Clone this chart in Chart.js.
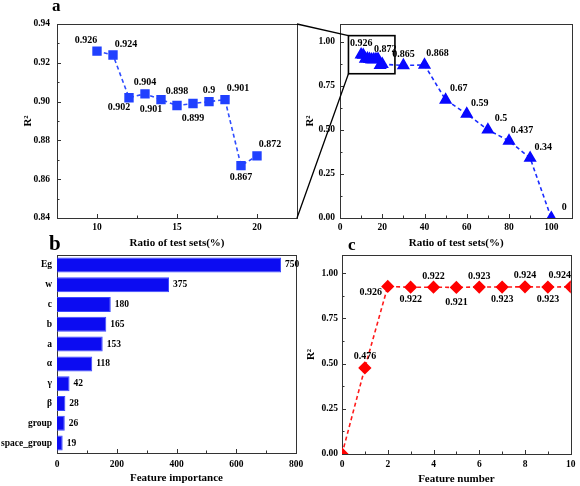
<!DOCTYPE html>
<html>
<head>
<meta charset="utf-8">
<script src="https://cdn.jsdelivr.net/npm/chart.js@4.4.1/dist/chart.umd.min.js"></script>
<style>
  body { margin: 0; background: #fff; width: 580px; height: 486px; position: relative; overflow: hidden; }
  canvas { position: absolute; left: 0; top: 0; }
</style>
</head>
<body>
<canvas id="zoomChart" width="580" height="486"></canvas>
<canvas id="fullChart" width="580" height="486"></canvas>
<canvas id="barChart" width="580" height="486"></canvas>
<canvas id="featChart" width="580" height="486"></canvas>
<script>
// panel a (left): zoomed part, ratio of test sets 10-20 %
const zoomRatio = [10, 11, 12, 13, 14, 15, 16, 17, 18, 19, 20];
const zoomR2 = [0.926, 0.924, 0.902, 0.904, 0.901, 0.898, 0.899, 0.9, 0.901, 0.867, 0.872];
// panel a (right): full range
const fullRatio = [10, 11, 12, 13, 14, 15, 16, 17, 18, 19, 20, 30, 40, 50, 60, 70, 80, 90, 100];
const fullR2 = [0.926, 0.924, 0.902, 0.904, 0.901, 0.898, 0.899, 0.9, 0.901, 0.867, 0.872, 0.865, 0.868, 0.67, 0.59, 0.5, 0.437, 0.34, 0];
// panel b
const features = ['Eg', 'w', 'c', 'b', 'a', 'α', 'γ', 'β', 'group', 'space_group'];
const importance = [750, 375, 180, 165, 153, 118, 42, 28, 26, 19];
// panel c
const featureNumber = [0, 1, 2, 3, 4, 5, 6, 7, 8, 9, 10];
const featureR2 = [0, 0.476, 0.926, 0.922, 0.922, 0.921, 0.923, 0.923, 0.924, 0.923, 0.924];

// tick labels
const zoomXTicks = [10, 15, 20];
const zoomYTicks = [0.84, 0.86, 0.88, 0.90, 0.92, 0.94];
const fullXTicks = [0, 20, 40, 60, 80, 100];
const r2Ticks = [0, 0.25, 0.5, 0.75, 1];
const importanceTicks = [0, 200, 400, 600, 800];
const featureTicks = [0, 2, 4, 6, 8, 10];

// where each value label sits relative to its point
const zoomLabelAt = ['ul', 'ur', 'dl', 'u', 'dl', 'uu', 'dd', 'u', 'ur', 'd', 'ur'];
const fullLabelAt = ['u', null, null, null, null, null, null, null, null, null, 'un', 'u', 'ur', 'ur', 'ur', 'ur', 'ur', 'ur', 'ur'];
const featLabelAt = [null, 'u', 'l', 'd', 'u', 'dd', 'u', 'd', 'u', 'd', 'ul'];
const OFF = { u: [0, -11], uu: [0, -14], un: [3, -15], d: [0, 12], dd: [0, 15], ul: [-11, -11], ur: [13, -11], dl: [-10, 10], l: [-17, 6] };

const FONT = '"Liberation Serif", "Times New Roman", serif';
const H = 40;

function font(size) { return { family: FONT, size: size, weight: 'bold' }; }

// y axis box is w wide, x axis box is H high; padding puts the plot area on box
function pad(box, w) {
  return { left: box.l - w, top: box.t, right: 580 - box.r, bottom: 486 - box.b - H };
}

function scale(o) {
  const s = {
    type: o.type || 'linear',
    grid: { display: false, drawTicks: false },
    border: { display: false },
    ticks: { color: '#000', font: font(9.5), padding: o.tickPad, autoSkip: false, maxRotation: 0 },
    afterFit: function (sc) { if (o.y) sc.width = o.w; else sc.height = H; },
    title: { display: false }
  };
  if (s.type === 'linear') {
    s.min = o.min;
    s.max = o.max;
    s.afterBuildTicks = function (sc) { sc.ticks = o.ticks.map(v => ({ value: v })); };
    if (o.fmt) s.ticks.callback = o.fmt;
  }
  if (o.title) {
    s.title = {
      display: true, text: o.title, color: '#000', font: font(11),
      padding: o.y ? { top: o.titlePad, bottom: 0 } : { top: 0, bottom: o.titlePad }
    };
  }
  return s;
}

// box around the plot area plus inward ticks
const framePlugin = {
  id: 'frame',
  beforeDatasetsDraw(chart) {
    const ctx = chart.ctx, a = chart.chartArea;
    ctx.save();
    ctx.strokeStyle = '#333';
    ctx.lineWidth = 1;
    ctx.strokeRect(Math.round(a.left) + 0.5, Math.round(a.top) + 0.5, Math.round(a.right - a.left), Math.round(a.bottom - a.top));
    Object.values(chart.scales).forEach(sc => {
      const horiz = sc.isHorizontal();
      const marks = [];
      if (sc.type === 'category') {
        sc.ticks.forEach((t, i) => marks.push([sc.getPixelForTick(i), 4]));
      } else {
        const vals = sc.ticks.map(t => t.value);
        vals.forEach((v, i) => {
          marks.push([sc.getPixelForValue(v), 4]);
          if (i > 0) marks.push([sc.getPixelForValue((v + vals[i - 1]) / 2), 2.5]);
        });
      }
      ctx.beginPath();
      marks.forEach(m => {
        const p = Math.round(m[0]) + 0.5;
        if (horiz) { ctx.moveTo(p, a.bottom); ctx.lineTo(p, a.bottom - m[1]); }
        else { ctx.moveTo(a.left, p); ctx.lineTo(a.left + m[1], p); }
      });
      ctx.stroke();
    });
    ctx.restore();
  }
};

const labelPlugin = {
  id: 'valueLabels',
  afterDatasetsDraw(chart, args, opts) {
    if (!opts || !opts.mode) return;
    const ctx = chart.ctx;
    const meta = chart.getDatasetMeta(0);
    const data = chart.data.datasets[0].data;
    ctx.save();
    ctx.fillStyle = '#000';
    ctx.font = 'bold ' + opts.size + 'px ' + FONT;
    ctx.textBaseline = 'middle';
    meta.data.forEach((el, i) => {
      const d = data[i];
      const v = typeof d === 'object' ? d.y : d;
      if (opts.mode === 'bar') {
        ctx.textAlign = 'left';
        ctx.fillText(String(v), el.x + 4, el.y);
        return;
      }
      const code = opts.at[i];
      if (!code) return;
      ctx.textAlign = 'center';
      ctx.fillText(String(v), el.x + OFF[code][0], el.y + OFF[code][1]);
    });
    ctx.restore();
  }
};

const fmt2 = v => Number(v).toFixed(2);

// ---- panel a, left
const zoomBox = { l: 57, t: 24, r: 297, b: 218 };
const zoomChart = new Chart(document.getElementById('zoomChart'), {
  type: 'line',
  data: {
    datasets: [{
      data: zoomRatio.map((x, i) => ({ x: x, y: zoomR2[i] })),
      borderColor: '#2f4dff', borderWidth: 1.6, borderDash: [4, 3],
      pointStyle: 'rect', pointRadius: 5.5, pointBackgroundColor: '#2040ff', pointBorderColor: '#2040ff',
      tension: 0
    }]
  },
  options: {
    responsive: false, animation: false,
    layout: { padding: pad(zoomBox, 50) },
    plugins: { legend: { display: false }, tooltip: { enabled: false }, valueLabels: { at: zoomLabelAt, size: 10, mode: 'point' } },
    scales: {
      x: scale({ min: 7.5, max: 22.5, ticks: zoomXTicks, tickPad: 4, title: 'Ratio of test sets(%)', titlePad: 8.4 }),
      y: scale({ y: true, w: 50, min: 0.84, max: 0.94, ticks: zoomYTicks, tickPad: 7, fmt: fmt2, title: 'R²', titlePad: 14.4 })
    }
  },
  plugins: [framePlugin, labelPlugin]
});

// ---- panel a, right (with the zoom box and connectors)
const insetPlugin = {
  id: 'inset',
  afterDraw(chart) {
    const ctx = chart.ctx, x = chart.scales.x, y = chart.scales.y;
    const l = x.getPixelForValue(4), r = x.getPixelForValue(26);
    const t = y.getPixelForValue(1.034), b = y.getPixelForValue(0.818);
    const za = zoomChart.chartArea;
    ctx.save();
    ctx.strokeStyle = '#000';
    ctx.lineWidth = 1.6;
    ctx.strokeRect(l, t, r - l, b - t);
    ctx.lineWidth = 1.3;
    ctx.beginPath();
    ctx.moveTo(za.right, za.top); ctx.lineTo(l, t);
    ctx.moveTo(za.right, za.bottom); ctx.lineTo(l, b);
    ctx.stroke();
    ctx.restore();
  }
};

const fullBox = { l: 340, t: 24, r: 573, b: 218 };
new Chart(document.getElementById('fullChart'), {
  type: 'line',
  data: {
    datasets: [{
      data: fullRatio.map((x, i) => ({ x: x, y: fullR2[i] })),
      borderColor: '#1a2cff', borderWidth: 1.6, borderDash: [4, 3],
      pointStyle: 'triangle', pointRadius: 6, pointBackgroundColor: '#0808ff', pointBorderColor: '#0808ff',
      tension: 0
    }]
  },
  options: {
    responsive: false, animation: false,
    layout: { padding: pad(fullBox, 50) },
    plugins: { legend: { display: false }, tooltip: { enabled: false }, valueLabels: { at: fullLabelAt, size: 10, mode: 'point' } },
    scales: {
      x: scale({ min: 0, max: 110, ticks: fullXTicks, tickPad: 4, title: 'Ratio of test sets(%)', titlePad: 8.4 }),
      y: scale({ y: true, w: 50, min: 0, max: 1.1, ticks: r2Ticks, tickPad: 5, fmt: fmt2, title: 'R²', titlePad: 13.4 })
    }
  },
  plugins: [framePlugin, labelPlugin, insetPlugin]
});

// ---- panel b
const barBox = { l: 57, t: 255, r: 296, b: 453 };
new Chart(document.getElementById('barChart'), {
  type: 'bar',
  data: {
    labels: features,
    datasets: [{
      data: importance,
      backgroundColor: '#0c0cf2', borderColor: '#3a48ff', borderWidth: 1,
      barPercentage: 0.76, categoryPercentage: 1
    }]
  },
  options: {
    indexAxis: 'y',
    responsive: false, animation: false,
    layout: { padding: pad(barBox, 57) },
    plugins: { legend: { display: false }, tooltip: { enabled: false }, valueLabels: { size: 9.5, mode: 'bar' } },
    scales: {
      x: scale({ min: 0, max: 800, ticks: importanceTicks, tickPad: 5.5, title: 'Feature importance', titlePad: 8.4 }),
      y: scale({ y: true, w: 57, type: 'category', tickPad: 5 })
    }
  },
  plugins: [framePlugin, labelPlugin]
});

// ---- panel c (also writes the panel letters)
const lettersPlugin = {
  id: 'letters',
  afterDraw(chart) {
    const ctx = chart.ctx;
    ctx.save();
    ctx.fillStyle = '#000';
    ctx.textAlign = 'left';
    ctx.textBaseline = 'alphabetic';
    ctx.font = 'bold 17px ' + FONT;
    ctx.fillText('a', 52, 11);
    ctx.font = 'bold 21px ' + FONT;
    ctx.fillText('b', 49, 250);
    ctx.font = 'bold 17px ' + FONT;
    ctx.fillText('c', 348, 250);
    ctx.restore();
  }
};

const featBox = { l: 342, t: 255, r: 573, b: 454 };
new Chart(document.getElementById('featChart'), {
  type: 'line',
  data: {
    datasets: [{
      data: featureNumber.map((x, i) => ({ x: x, y: featureR2[i] })),
      borderColor: '#ff1a1a', borderWidth: 1.6, borderDash: [4, 3],
      pointStyle: 'rectRot', pointRadius: 5.5, pointBackgroundColor: '#ff0000', pointBorderColor: '#ff0000',
      tension: 0
    }]
  },
  options: {
    responsive: false, animation: false,
    layout: { padding: pad(featBox, 50) },
    plugins: { legend: { display: false }, tooltip: { enabled: false }, valueLabels: { at: featLabelAt, size: 10, mode: 'point' } },
    scales: {
      x: scale({ min: 0, max: 10, ticks: featureTicks, tickPad: 4.5, title: 'Feature number', titlePad: 8.4 }),
      y: scale({ y: true, w: 50, min: 0, max: 1.1, ticks: r2Ticks, tickPad: 4, fmt: fmt2, title: 'R²', titlePad: 12.4 })
    }
  },
  plugins: [framePlugin, labelPlugin, lettersPlugin]
});
</script>
</body>
</html>
